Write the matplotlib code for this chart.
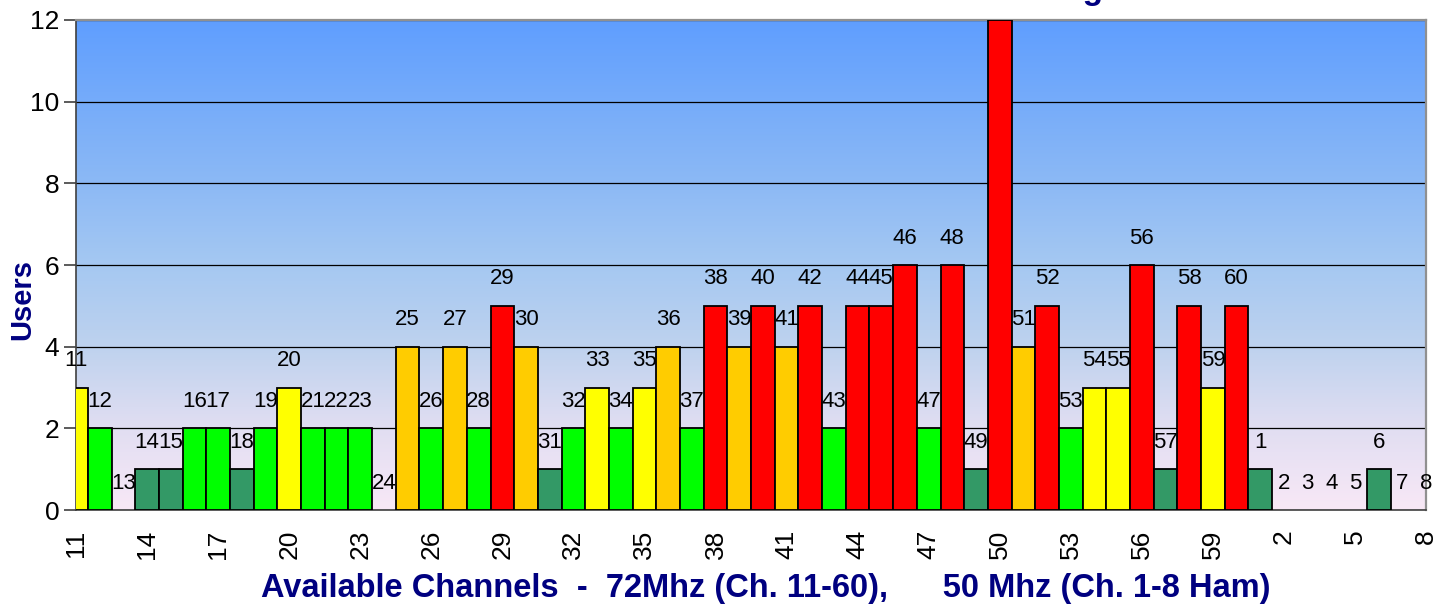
import numpy as np
import matplotlib.pyplot as plt
from matplotlib.colors import LinearSegmentedColormap

plt.rcParams['font.family'] = ['Liberation Sans', 'DejaVu Sans']

# channels: 72 Mhz 11-60, then 50 Mhz ham 1-8
channels = [str(c) for c in range(11, 61)] + [str(c) for c in range(1, 9)]
users = [3, 2, 0, 1, 1, 2, 2, 1, 2, 3,      # 11-20
         2, 2, 2, 0, 4, 2, 4, 2, 5, 4,      # 21-30
         1, 2, 3, 2, 3, 4, 2, 5, 4, 5,      # 31-40
         4, 5, 2, 5, 5, 6, 2, 6, 1, 12,     # 41-50
         4, 5, 2, 3, 3, 6, 1, 5, 3, 5,      # 51-60
         1, 0, 0, 0, 0, 1, 0, 0]            # 1-8

# colour by number of users
level_colors = {1: '#339966', 2: '#00FF00', 3: '#FFFF00', 4: '#FFCC00'}


def bar_color(v):
    if v <= 0:
        return 'none'
    if v >= 5:
        return '#FF0000'
    return level_colors[v]


fig = plt.figure(figsize=(14.45, 6.06), dpi=100)
ax = fig.add_axes([0.0526, 0.1584, 0.9343, 0.8086])

x = np.arange(len(channels))
n = len(channels) - 1

# background gradient, blue at the top to pale pink at the bottom
bg = LinearSegmentedColormap.from_list('bg', [
    (0.0, (248/255, 232/255, 246/255)),
    (1/6, (225/255, 222/255, 242/255)),
    (2/6, (190/255, 210/255, 238/255)),
    (3/6, (165/255, 200/255, 242/255)),
    (4/6, (140/255, 185/255, 245/255)),
    (1.0, (95/255, 158/255, 255/255))])
grad = np.linspace(0, 1, 256).reshape(-1, 1)
ax.imshow(grad, extent=[0, n, 0, 12], origin='lower', aspect='auto', cmap=bg, zorder=0)

cols = [bar_color(v) for v in users]
edges = ['black' if v > 0 else 'none' for v in users]
ax.bar(x, users, width=1.0, color=cols, edgecolor=edges, linewidth=1.3, zorder=3)

for xi, v, name in zip(x, users, channels):
    ax.annotate(name, (xi, v), xytext=(0, 19.4), textcoords='offset points',
                ha='center', va='center', fontsize=16, annotation_clip=False, zorder=4)

ax.set_xlim(0, n)
ax.set_ylim(0, 12)
ax.set_yticks(np.arange(0, 13, 2))
ax.set_xticks(x[::3])
ax.set_xticklabels(channels[::3])

ax.set_axisbelow(True)
ax.yaxis.grid(True, color='black', linewidth=0.9)

ax.tick_params(axis='x', length=0, pad=14, labelsize=19, labelrotation=90)
ax.tick_params(axis='y', length=9, width=1.2, direction='out', labelsize=19, pad=3, color='#404040')

for s in ['left', 'bottom']:
    ax.spines[s].set_color('#404040')
    ax.spines[s].set_linewidth(1.2)
for s in ['top', 'right']:
    ax.spines[s].set_color('#909090')
    ax.spines[s].set_linewidth(1.6)

fig.text(22/1445, 1 - 300/606, 'Users', rotation=90, ha='center', va='center',
         fontsize=21, fontweight='bold', color='#000080')
fig.text(766/1445, 1 - 588/606,
         'Available Channels  -  72Mhz (Ch. 11-60),      50 Mhz (Ch. 1-8 Ham)',
         ha='center', va='center', fontsize=23.5, fontweight='bold', color='#000080')
# title sits mostly above the image edge
fig.text(1121/1445, 1 + 1/606, 'Channel Usage', ha='right', va='baseline',
         fontsize=24, fontweight='bold', color='#000080')

fig.savefig('out.png', dpi=100)
